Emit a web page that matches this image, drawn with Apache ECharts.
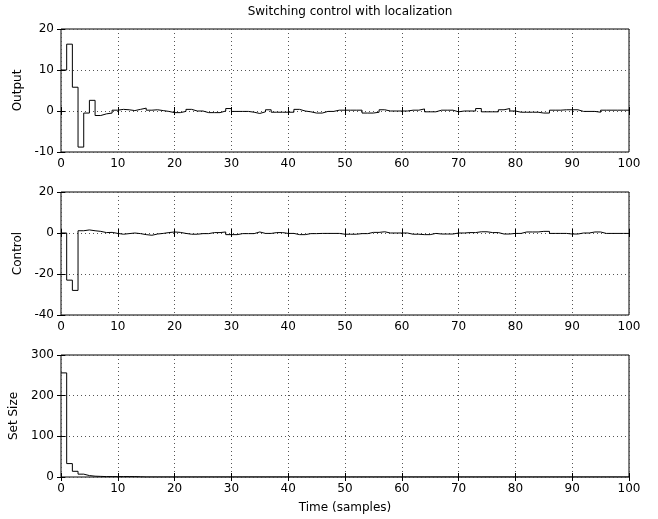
<!DOCTYPE html>
<html><head><meta charset="utf-8">
<script src="https://cdn.jsdelivr.net/npm/echarts@6/dist/echarts.min.js"></script>
<style>html,body{margin:0;padding:0;background:#fff}#c{width:658px;height:519px}</style>
</head><body><div id="c"></div>
<script>
const titleText = 'Switching control with localization';
const xLabel = 'Time (samples)';
const yNames = ['Output', 'Control', 'Set Size'];
const xTicks = [0, 10, 20, 30, 40, 50, 60, 70, 80, 90, 100];
const outputTicks = [-10, 0, 10, 20];
const controlTicks = [-40, -20, 0, 20];
const setSizeTicks = [0, 100, 200, 300];

const output = [10,16.3,5.8,-8.8,-0.5,2.6,-1.1,-0.7,-0.5,0.2,
0.4,0.3,0.1,0.4,0.7,0.2,0.3,0.1,-0.1,-0.4,
-0.4,-0.1,0.4,0,0,-0.4,-0.4,-0.4,0,0.6,
-0.1,-0.1,-0.1,-0.3,-0.6,-0.2,0.3,-0.3,-0.3,-0.3,
-0.3,0.4,0,-0.2,-0.5,-0.5,-0.1,-0.1,0.2,0.2,
0.2,0.2,0.2,-0.5,-0.5,-0.3,0.3,0,0,0,
0,0.2,0.2,0.5,-0.2,-0.2,0.2,0.2,0.2,-0.2,
0,0,0,0.6,-0.2,-0.2,-0.2,0.3,0.6,0,
-0.3,-0.3,-0.3,-0.3,-0.5,-0.5,0.2,0.2,0.3,0.3,
0.3,-0.1,-0.1,-0.1,-0.3,0.2,0.2,0.2,0.2,0.2];

const control = [0,-23,-28,1.1,1.5,1.1,0.8,0.2,0.3,-0.2,
-0.6,-0.3,0,-0.3,-0.8,-1.1,-0.5,-0.2,0.2,0.5,
0.3,-0.2,-0.6,-0.6,-0.3,-0.3,0.2,0.2,0.5,-0.8,
-0.8,-0.3,-0.3,-0.3,0.5,-0.2,-0.2,0.2,0.2,-0.2,
-0.2,-0.8,-0.8,-0.3,-0.3,-0.2,-0.2,-0.2,-0.2,-0.6,
-0.6,-0.6,-0.3,-0.3,0.3,0.3,0.6,0,0,0,
0,-0.6,-0.6,-0.8,-0.8,-0.2,-0.5,-0.5,-0.5,0,
0,0.2,0.2,0.6,0.6,0.2,0.2,-0.5,-0.5,-0.2,
-0.2,0.5,0.5,0.5,0.8,0.8,-0.2,-0.2,-0.2,-0.5,
-0.5,0,0,0.5,0.5,-0.2,-0.2,-0.2,-0.2,-0.2];

const setSize = [256,33,14,7,3.5,2,1.5,1,1,1,
1,1,1,0.5,0,0,0,0,0,0,
0,0,0,0,0,0,0,0,0,0,
0,0,0,0,0,0,0,0,0,0,
0,0,0,0,0,0,0,0,0,0,
0,0,0,0,0,0,0,0,0,0,
0,0,0,0,0,0,0,0,0,0,
0,0,0,0,0,0,0,0,0,0,
0,0,0,0,0,0,0,0,0,0,
0,0,0,0,0,0,0,0,0,0];

const FONT = 'DejaVu Sans';
function stepData(arr){
  const d = arr.map((v,i)=>[i,v]);
  d.push([arr.length, arr[arr.length-1]]);
  return d;
}
const grids = [
  {left:61, right:29, top:29, height:123},
  {left:61, right:29, top:192, height:123},
  {left:61, right:29, top:355, height:122}
].map(g=>Object.assign(g,{show:true,borderColor:'#000',borderWidth:1,backgroundColor:'transparent'}));

const yTickSets = [outputTicks, controlTicks, setSizeTicks];
const xAxes = [], yAxes = [], series = [];
const dataSets = [output, control, setSize];
for (let i=0;i<3;i++){
  xAxes.push({
    type:'value', gridIndex:i, min:xTicks[0], max:xTicks[xTicks.length-1], interval:xTicks[1]-xTicks[0],
    position:'bottom',
    axisLine:{show:false}, axisTick:{show:true, inside:true, length:4, lineStyle:{color:'#000'}},
    axisLabel:{show:true, color:'#000', fontFamily:FONT, fontSize:12, margin:6},
    splitLine:{show:true, lineStyle:{color:'#555', type:[1,3], width:1}},
    name: i===2 ? xLabel : '', nameLocation:'middle', nameGap:25,
    nameTextStyle:{color:'#000', fontFamily:FONT, fontSize:12}
  });
  xAxes.push({
    type:'value', gridIndex:i, min:xTicks[0], max:xTicks[xTicks.length-1], interval:xTicks[1]-xTicks[0],
    position:'top', axisLine:{show:false}, axisTick:{show:true, inside:true, length:4, lineStyle:{color:'#000'}},
    axisLabel:{show:false}, splitLine:{show:false}
  });
  const t = yTickSets[i];
  yAxes.push({
    type:'value', gridIndex:i, min:t[0], max:t[t.length-1], interval:t[1]-t[0], position:'left',
    axisLine:{show:false}, axisTick:{show:true, inside:true, length:4, lineStyle:{color:'#000'}},
    axisLabel:{show:true, color:'#000', fontFamily:FONT, fontSize:12, margin:7},
    splitLine:{show:true, lineStyle:{color:'#555', type:[1,3], width:1}},
    name: yNames[i], nameLocation:'middle', nameGap:31,
    nameTextStyle:{color:'#000', fontFamily:FONT, fontSize:12}
  });
  yAxes.push({
    type:'value', gridIndex:i, min:t[0], max:t[t.length-1], interval:t[1]-t[0], position:'right',
    axisLine:{show:false}, axisTick:{show:true, inside:true, length:4, lineStyle:{color:'#000'}},
    axisLabel:{show:false}, splitLine:{show:false}
  });
  series.push({
    type:'line', xAxisIndex:2*i, yAxisIndex:2*i, step:'end', data:stepData(dataSets[i]),
    showSymbol:false, symbol:'none', lineStyle:{color:'#000', width:1}, silent:true, animation:false
  });
}

const chart = echarts.init(document.getElementById('c'), null, {renderer:'canvas'});
chart.setOption({
  animation:false,
  backgroundColor:'#fff',
  title:{text:titleText, left:345, top:1, textAlign:'center',
    textStyle:{color:'#000', fontFamily:FONT, fontSize:12, fontWeight:'normal'}},
  grid:grids, xAxis:xAxes, yAxis:yAxes, series:series
});
</script></body></html>
